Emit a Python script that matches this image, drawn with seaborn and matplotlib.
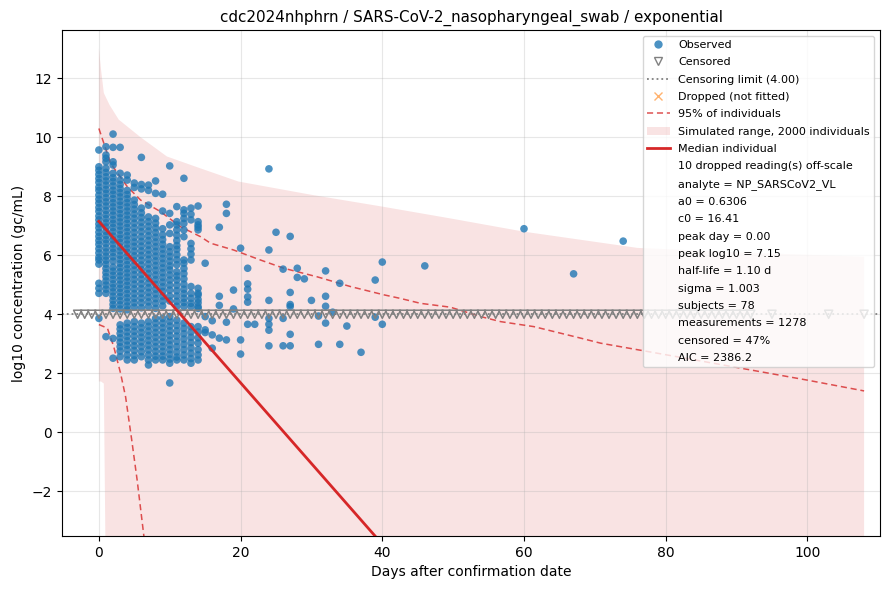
import matplotlib
matplotlib.use("Agg")
import matplotlib.pyplot as plt
import seaborn as sns
import numpy as np
import pandas as pd
from matplotlib.lines import Line2D
from matplotlib.patches import Patch, Rectangle

# ---------------- data ----------------
title = "cdc2024nhphrn / SARS-CoV-2_nasopharyngeal_swab / exponential"
censor_limit = 4.0

obs_days = [0, 1, 2, 3, 4, 5, 6, 7, 8, 9, 10, 11, 12, 13, 14, 15, 16, 17, 18, 19,
            20, 21, 22, 24, 25, 26, 27, 28, 29, 30, 31, 32, 33, 34, 35, 37, 39, 40,
            46, 60, 67, 74]
obs_values = [
    [9.57, 9.0, 8.88, 8.74, 8.6, 8.47, 8.31, 8.2, 8.04, 7.9, 7.77, 7.62, 7.49, 7.33, 7.2,
     7.06, 6.93, 6.78, 6.64, 6.5, 6.37, 6.22, 6.08, 5.93, 5.84, 5.7, 5.05, 4.88, 4.71, 3.86],
    [9.68, 9.4, 9.29, 9.17, 8.95, 8.81, 8.66, 8.52, 8.38, 8.23, 8.1, 7.95, 7.81, 7.67, 7.52,
     7.38, 7.24, 7.1, 6.96, 6.81, 6.67, 6.53, 6.4, 6.25, 6.11, 5.97, 5.83, 5.7, 5.55, 5.41,
     5.27, 5.13, 4.99, 4.85, 4.71, 3.24],
    [10.11, 9.66, 9.17, 9.06, 8.78, 8.63, 8.5, 8.35, 8.2, 8.07, 7.92, 7.78, 7.64, 7.5, 7.36,
     7.21, 7.08, 6.94, 6.8, 6.65, 6.52, 6.38, 6.23, 6.1, 5.95, 5.8, 5.6, 5.46, 5.32, 5.18,
     5.03, 4.9, 4.76, 4.61, 4.47, 4.33, 4.2, 3.18, 2.51],
    [9.66, 8.78, 8.55, 8.4, 8.26, 8.12, 7.98, 7.83, 7.7, 7.55, 7.41, 7.27, 7.13, 6.99, 6.85,
     6.7, 6.57, 6.43, 6.28, 6.15, 6.0, 5.86, 5.72, 5.58, 5.44, 5.3, 5.16, 5.02, 4.88, 4.74,
     4.6, 4.46, 4.32, 4.18, 3.64, 3.5, 3.35, 3.2, 3.05, 2.9, 2.75, 2.56],
    [8.72, 8.55, 8.2, 8.06, 7.92, 7.78, 7.64, 7.5, 7.36, 7.22, 7.08, 6.94, 6.8, 6.66, 6.52,
     6.38, 6.24, 6.1, 5.96, 5.82, 5.68, 5.54, 5.4, 5.26, 5.12, 4.98, 4.84, 4.7, 4.56, 4.42,
     4.28, 4.15, 3.7, 3.55, 3.4, 3.25, 3.1, 2.95, 2.8, 2.62, 2.45],
    [8.45, 8.3, 7.87, 7.72, 7.56, 7.4, 7.25, 7.09, 6.93, 6.77, 6.61, 6.45, 6.3, 6.14, 5.98,
     5.82, 5.66, 5.5, 5.34, 5.18, 5.02, 4.86, 4.7, 4.54, 4.39, 4.24, 3.75, 3.58, 3.42, 3.26,
     3.09, 2.93, 2.77, 2.6, 2.45],
    [9.32, 8.4, 8.25, 7.6, 7.44, 7.28, 7.12, 6.96, 6.8, 6.63, 6.47, 6.31, 6.15, 5.99, 5.83,
     5.67, 5.51, 5.35, 5.19, 5.03, 4.87, 4.71, 4.55, 4.39, 4.22, 3.7, 3.54, 3.38, 3.22, 3.06,
     2.9, 2.73, 2.56],
    [8.38, 8.2, 7.7, 7.3, 7.14, 6.98, 6.82, 6.66, 6.5, 6.34, 6.18, 6.02, 5.86, 5.7, 5.54,
     5.38, 5.22, 5.06, 4.9, 4.74, 4.58, 4.42, 4.26, 3.75, 3.59, 3.43, 3.27, 3.11, 2.95, 2.79,
     2.62, 2.45, 2.28],
    [8.52, 8.1, 7.25, 7.09, 6.93, 6.77, 6.61, 6.45, 6.29, 6.13, 5.97, 5.81, 5.65, 5.49, 5.33,
     5.17, 5.01, 4.85, 4.69, 4.53, 4.37, 4.2, 3.86, 3.7, 3.54, 3.38, 3.22, 3.06, 2.9, 2.74,
     2.58, 2.45],
    [8.07, 7.5, 6.9, 6.69, 6.53, 6.37, 6.21, 6.05, 5.89, 5.73, 5.57, 5.41, 5.25, 5.09, 4.93,
     4.77, 4.61, 4.45, 4.28, 3.86, 3.7, 3.54, 3.38, 3.22, 3.06, 2.9, 2.74, 2.58, 2.45],
    [9.03, 7.42, 7.03, 6.74, 6.29, 6.12, 5.96, 5.8, 5.64, 5.5, 5.33, 5.16, 4.99, 4.82, 4.62,
     4.45, 3.92, 3.76, 3.6, 3.44, 3.28, 3.12, 2.96, 2.8, 2.64, 2.48, 2.34, 1.67],
    [7.65, 7.14, 7.03, 6.86, 6.68, 6.5, 6.33, 6.2, 6.02, 5.85, 5.68, 5.44, 5.3, 5.16, 4.98,
     4.8, 4.62, 4.44, 4.27, 3.8, 3.62, 3.44, 3.26, 3.08, 2.9, 2.72, 2.55, 2.45],
    [8.61, 7.54, 7.42, 7.25, 7.08, 6.86, 6.63, 5.84, 5.73, 5.55, 5.38, 5.2, 5.02, 4.85, 4.7,
     4.54, 4.4, 4.26, 3.7, 3.52, 3.34, 3.16, 2.98, 2.8, 2.62, 2.45],
    [7.6, 7.39, 7.2, 6.4, 6.22, 6.04, 5.84, 4.94, 4.71, 4.54, 4.37, 4.26, 3.58, 3.4, 3.22,
     3.04, 2.86, 2.68, 2.5, 2.34],
    [7.67, 7.14, 7.03, 6.95, 6.86, 4.88, 4.71, 4.65, 4.5, 4.39, 4.26, 4.2, 3.58, 3.4, 3.2,
     3.02, 2.8, 2.62, 2.45],
    [5.73, 3.92, 3.47, 3.38],
    [3.78, 3.3, 2.85],
    [6.95, 4.61, 4.3, 3.19],
    [7.73, 7.42, 3.73, 3.13],
    [4.82, 4.18],
    [6.24, 3.13, 2.65],
    [5.56, 5.03, 4.85, 4.59, 4.41, 3.66],
    [3.66],
    [8.93, 6.18, 4.47, 3.86, 3.66, 3.46, 2.93],
    [6.78],
    [5.53, 3.86, 2.93],
    [6.64, 4.74, 4.33, 4.26, 3.32, 2.93],
    [5.56, 5.25],
    [5.2],
    [4.47],
    [3.94, 2.98],
    [5.47, 4.61, 4.27, 3.7],
    [4.07],
    [5.05, 2.98],
    [3.6],
    [2.71],
    [5.16, 3.9],
    [5.77, 3.66],
    [5.64],
    [6.9],
    [5.37],
    [6.48],
]

censored_days = [-3, -2, -1, 0, 1, 2, 3, 4, 5, 6, 7, 8, 9, 10, 11, 12, 13, 14, 15, 16,
                 17, 18, 19, 20, 21, 22, 23, 24, 25, 26, 27, 28, 29, 30, 31, 32, 33, 34,
                 35, 36, 37, 38, 39, 40, 41, 42, 43, 44, 45, 46, 47, 48, 49, 50, 51, 52,
                 53, 54, 55, 56, 57, 58, 59, 60, 61, 62, 63, 64, 65, 66, 67, 68, 69, 70,
                 71, 72, 73, 74, 75, 76, 77, 78, 79, 80, 81, 82, 83, 84, 85, 86, 87, 88,
                 89, 90, 91, 92, 95, 103, 108]

band_days = [0, 0.3, 0.7, 1.1, 1.5, 2.8, 5.9, 9.6, 14.3, 19.7, 30, 40, 49.6, 60, 76, 90, 108]
band_upper = [13.02, 12.3, 11.5, 11.3, 11.1, 10.6, 10.0, 9.35, 8.95, 8.5, 8.05, 7.65, 7.25,
              6.8, 6.25, 6.1, 5.95]
band_lower = [1.72, 1.72, 1.65, -8, -8, -8, -8, -8, -8, -8, -8, -8, -8, -8, -8, -8, -8]

p95_upper_days = [0, 1.65, 4.0, 5.9, 8.7, 11.5, 14.35, 15.75, 19, 22.8, 26.1, 30.8, 35.5,
                  40.2, 42.5, 45.4, 49.6, 53.9, 56.7, 61.4, 68, 70.8, 81.6, 99.9, 108]
p95_upper = [10.3, 9.12, 8.33, 7.87, 7.48, 6.97, 6.63, 6.41, 6.18, 5.84, 5.56, 5.27, 4.94,
             4.66, 4.54, 4.37, 4.24, 3.92, 3.75, 3.58, 3.19, 3.02, 2.56, 1.77, 1.40]
p95_lower_days = [0, 1.2, 2.1, 3.06, 3.77, 4.6, 5.4, 6.35, 7.0]
p95_lower = [3.65, 3.53, 2.9, 2.0, 1.2, -0.2, -1.62, -3.52, -5.0]

median_days = [0, 108]
median_values = [7.15, -22.41]

legend_notes = [
    "10 dropped reading(s) off-scale",
    "analyte = NP_SARSCoV2_VL",
    "a0 = 0.6306",
    "c0 = 16.41",
    "peak day = 0.00",
    "peak log10 = 7.15",
    "half-life = 1.10 d",
    "sigma = 1.003",
    "subjects = 78",
    "measurements = 1278",
    "censored = 47%",
    "AIC = 2386.2",
]

# ---------------- build tables ----------------
obs = pd.DataFrame(
    [(d, v) for d, vals in zip(obs_days, obs_values) for v in vals],
    columns=["day", "log10"],
)
cens = pd.DataFrame({"day": censored_days, "log10": censor_limit})
band = pd.DataFrame({"day": band_days, "lo": band_lower, "hi": band_upper})
p95u = pd.DataFrame({"day": p95_upper_days, "v": p95_upper})
p95l = pd.DataFrame({"day": p95_lower_days, "v": p95_lower})
med = pd.DataFrame({"day": median_days, "v": median_values})

# ---------------- plot ----------------
fig, ax = plt.subplots(figsize=(8.9, 5.9), dpi=100)
fig.subplots_adjust(left=0.0697, right=0.9888, top=0.9492, bottom=0.0915)

red = "#d62728"
ax.fill_between(band["day"], band["lo"], band["hi"], color=red, alpha=0.13,
                linewidth=0, zorder=1)
sns.lineplot(data=p95u, x="day", y="v", ax=ax, color=red, alpha=0.8, lw=1.1,
             linestyle=(0, (4, 2.5)), zorder=2, sort=False)
sns.lineplot(data=p95l, x="day", y="v", ax=ax, color=red, alpha=0.8, lw=1.1,
             linestyle=(0, (4, 2.5)), zorder=2, sort=False)
ax.axhline(censor_limit, color="gray", linestyle=":", lw=1.3, zorder=2.5)
sns.scatterplot(data=obs, x="day", y="log10", ax=ax, color="#1f77b4", alpha=0.8,
                s=30, edgecolor="none", linewidth=0, zorder=3, legend=False)
sns.scatterplot(data=cens, x="day", y="log10", ax=ax, marker="v", s=34,
                facecolor="none", edgecolor="gray", linewidth=1.1, alpha=1.0,
                zorder=4, legend=False)
sns.lineplot(data=med, x="day", y="v", ax=ax, color=red, lw=2, zorder=5)

ax.set_xlim(-5.2, 110.25)
ax.set_ylim(-3.52, 13.64)
ax.set_xticks([0, 20, 40, 60, 80, 100])
ax.set_yticks([-2, 0, 2, 4, 6, 8, 10, 12])
ax.grid(True, alpha=0.3)
ax.set_xlabel("Days after confirmation date")
ax.set_ylabel("log10 concentration (gc/mL)")
ax.set_title(title, fontsize=10.9)

handles = [
    Line2D([], [], marker="o", ls="", color="#1f77b4", alpha=0.8, markersize=6,
           markeredgewidth=0),
    Line2D([], [], marker="v", ls="", markerfacecolor="none", markeredgecolor="gray",
           markersize=6),
    Line2D([], [], color="gray", ls=":", lw=1.3),
    Line2D([], [], marker="x", ls="", color="#ff7f0e", alpha=0.6, markersize=6),
    Line2D([], [], color=red, alpha=0.8, lw=1.1, ls=(0, (4, 2.5))),
    Patch(facecolor=red, alpha=0.13, edgecolor="none"),
    Line2D([], [], color=red, lw=2),
]
labels = ["Observed", "Censored", "Censoring limit (4.00)", "Dropped (not fitted)",
          "95% of individuals", "Simulated range, 2000 individuals", "Median individual"]
for note in legend_notes:
    handles.append(Rectangle((0, 0), 1, 1, fill=False, edgecolor="none", visible=False))
    labels.append(note)
ax.legend(handles, labels, loc="upper right", fontsize=8, framealpha=0.8,
          labelspacing=0.66)

fig.savefig("out.png", dpi=100)
